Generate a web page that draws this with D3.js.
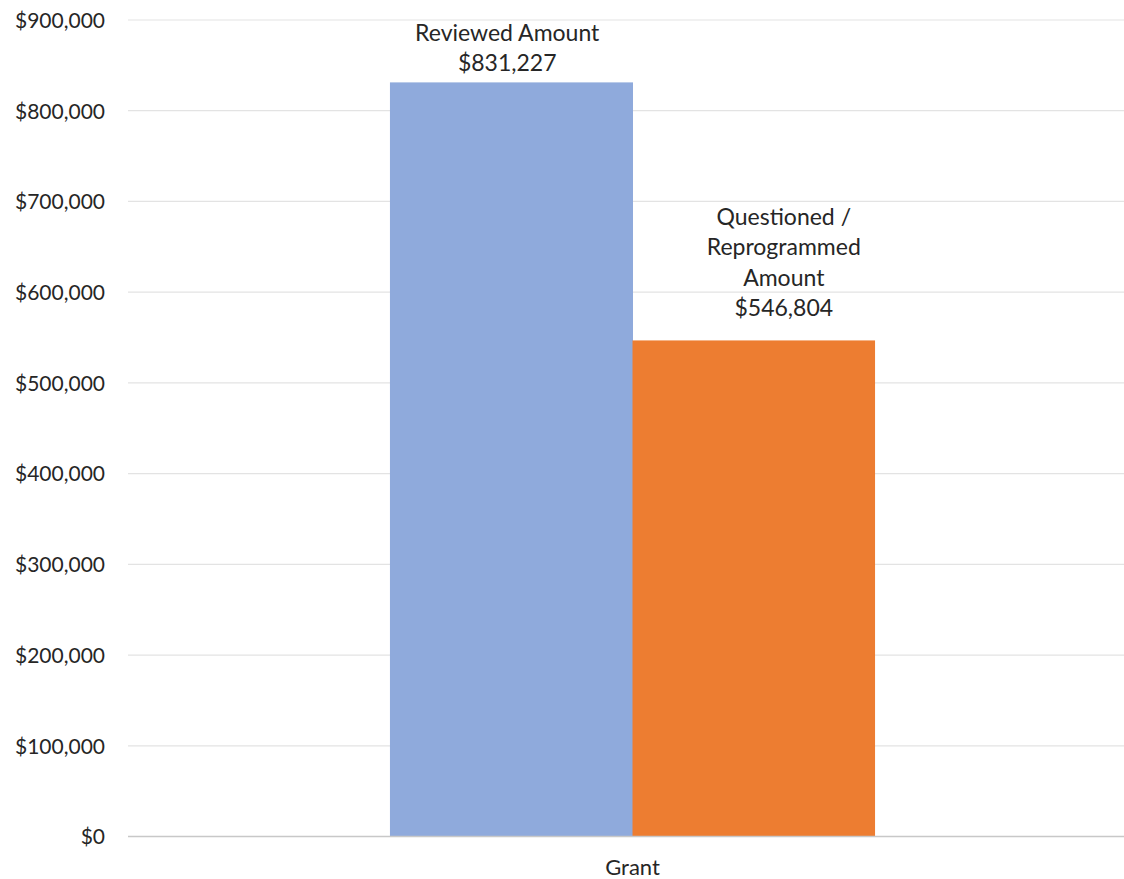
<!DOCTYPE html>
<html>
<head>
<meta charset="utf-8">
<script src="https://cdn.jsdelivr.net/npm/d3@7"></script>
<style>
  body { margin: 0; background: #fff; }
  svg text { font-family: Lato, "Open Sans", sans-serif; fill: #262626; }
</style>
</head>
<body>
<svg id="chart" width="1124" height="879"></svg>
<script>
// Data
const categories = ["Grant"]
const series = ["Reviewed Amount", "Questioned / Reprogrammed Amount"]
const values = [831227, 546804]
const labelLines = [
    ["Reviewed Amount", "$831,227"],
    ["Questioned /", "Reprogrammed", "Amount", "$546,804"]
]
const yTicks = [0, 100000, 200000, 300000, 400000, 500000, 600000, 700000, 800000, 900000]
const colours = ["#8faadc", "#ed7d31"]

const params = {
    left: 128,
    right: 1137,
    top: 20,
    bottom: 836.5,
    fontSize: 21,
    labelSize: 23,
    lineHeight: 30.5
}
// where the data labels sit relative to the bar top (from the picture)
const labelOffset = [{dx: -4, dy: -11}, {dx: 30, dy: -24}]

const svg = d3.select("#chart")

const y = d3.scaleLinear()
    .domain([0, 900000])
    .range([params.bottom, params.top])

const x0 = d3.scaleBand()
    .domain(categories)
    .range([params.left, params.right])
    .paddingOuter(0.54)
    .paddingInner(0)

const x1 = d3.scaleBand()
    .domain(series)
    .range([0, x0.bandwidth()])

// gridlines
svg.append("g")
    .selectAll("line")
    .data(yTicks.filter(d => d > 0))
    .join("line")
    .attr("x1", params.left)
    .attr("x2", 1124)
    .attr("y1", d => y(d))
    .attr("y2", d => y(d))
    .attr("stroke", "#e3e3e3")
    .attr("stroke-width", 1.2)

// y axis labels
const fmt = d3.format("$,")
const yAxis = svg.append("g")
    .attr("transform", "translate(" + (params.left - 23) + ",0)")
    .call(d3.axisLeft(y).tickValues(yTicks).tickFormat(fmt).tickSize(0).tickPadding(0))
yAxis.select(".domain").remove()
yAxis.selectAll("text")
    .attr("font-size", params.fontSize)
    .attr("font-family", "Lato, sans-serif")
    .attr("fill", "#262626")
    .attr("dy", "0.35em")

// bars
const group = svg.append("g")
    .attr("transform", "translate(" + x0("Grant") + ",0)")

group.selectAll("rect")
    .data(values)
    .join("rect")
    .attr("x", (d, i) => x1(series[i]))
    .attr("width", (d, i) => x1.bandwidth() + (i === 0 ? 0.5 : 0))
    .attr("y", d => y(d))
    .attr("height", d => y(0) - y(d))
    .attr("fill", (d, i) => colours[i])

// data labels
values.forEach(function(v, i){
    const lines = labelLines[i]
    const cx = x1(series[i]) + x1.bandwidth()/2 + labelOffset[i].dx
    const lastBase = y(v) + labelOffset[i].dy
    group.append("text")
        .attr("text-anchor", "middle")
        .attr("font-size", params.labelSize)
        .selectAll("tspan")
        .data(lines)
        .join("tspan")
        .attr("x", cx)
        .attr("y", (d, j) => lastBase - (lines.length - 1 - j)*params.lineHeight)
        .text(d => d)
})

// x axis line
svg.append("line")
    .attr("x1", params.left)
    .attr("x2", 1124)
    .attr("y1", y(0))
    .attr("y2", y(0))
    .attr("stroke", "#c8c8c8")
    .attr("stroke-width", 1.5)

// category label
svg.append("text")
    .attr("x", x0("Grant") + x0.bandwidth()/2)
    .attr("y", 875)
    .attr("text-anchor", "middle")
    .attr("font-size", 22)
    .text(categories[0])
</script>
</body>
</html>
